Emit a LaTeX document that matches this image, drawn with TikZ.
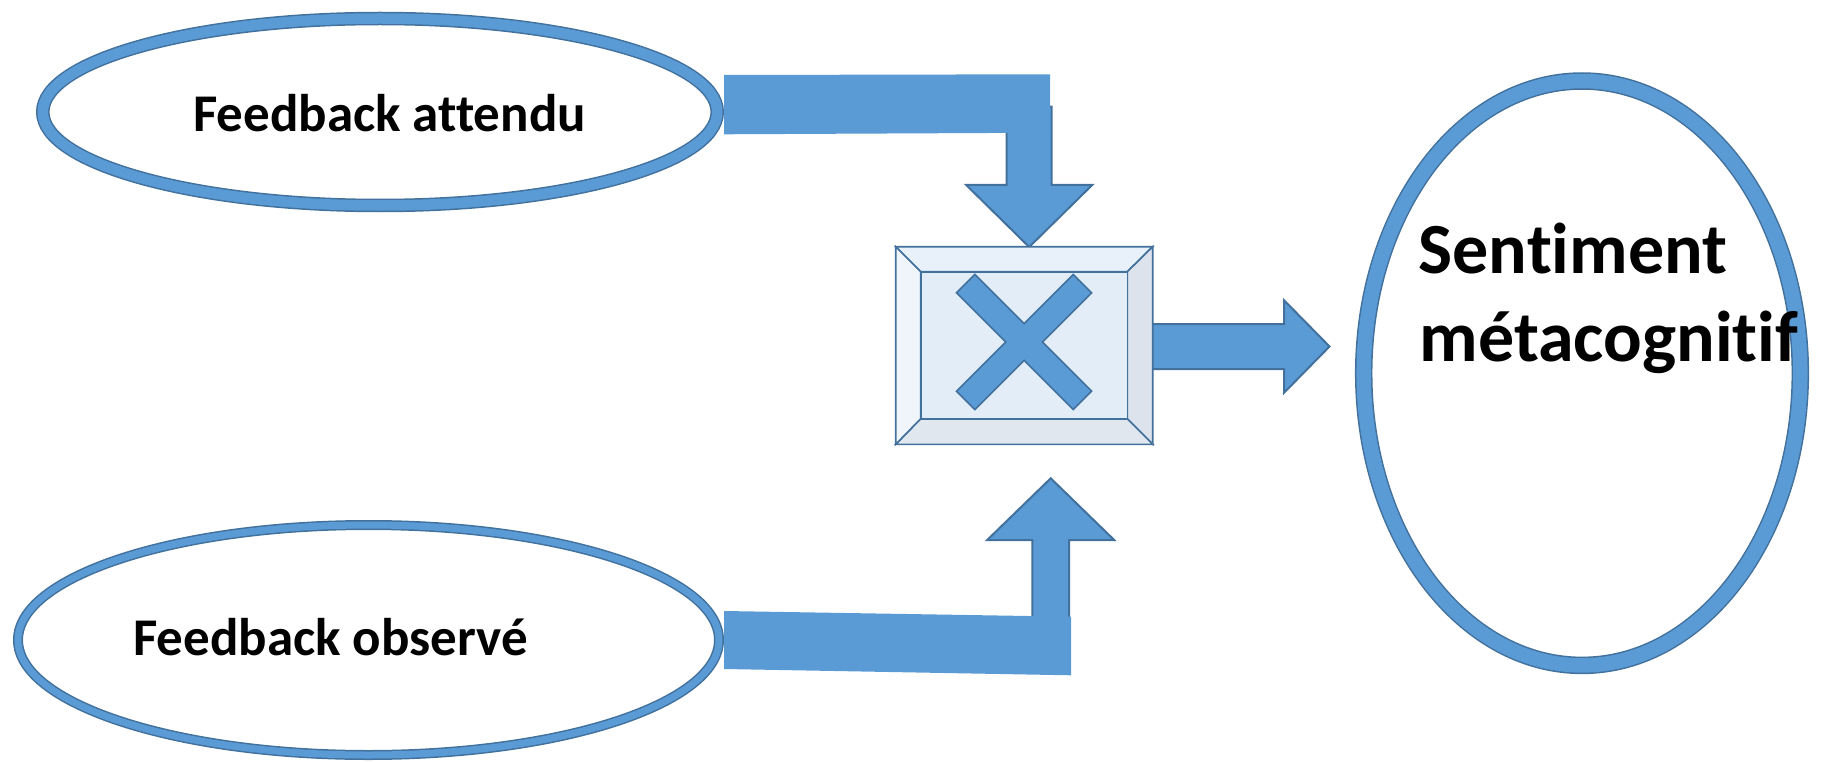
\documentclass[tikz,border=0pt]{standalone}
\usepackage{fontspec}
\setmainfont{Carlito}[RawFeature={-liga;-clig;-dlig}]
\definecolor{fillblue}{HTML}{5B9BD5}
\definecolor{edgeblue}{HTML}{41719C}
\definecolor{bevtop}{HTML}{E8F0F9}
\definecolor{bevleft}{HTML}{F0F5FB}
\definecolor{bevright}{HTML}{DCE3EC}
\definecolor{bevbot}{HTML}{E0E7EF}
\definecolor{bevface}{HTML}{E3EDF8}
\tikzset{
  ringouter/.style={draw=edgeblue, fill=white},
  ringinner/.style={draw=fillblue},
  blockarrow/.style={fill=fillblue, draw=edgeblue, line width=2pt, line join=miter},
  blockbar/.style={fill=fillblue, draw=none},
  bevel/.style={draw=edgeblue, line width=1.6pt, line join=miter},
  lbl/.style={anchor=base west, inner sep=0pt, text=black},
  smalltxt/.style={font=\fontsize{53}{64}\selectfont\bfseries},
  bigtxt/.style={font=\fontsize{72}{88}\selectfont\bfseries}
}
\begin{document}
\begin{tikzpicture}[x=1pt,y=-1pt]
\useasboundingbox (0,0) rectangle (1827,762);

% ---- ellipse centres
\coordinate (eA) at (380,112);
\coordinate (eO) at (368.5,640);
\coordinate (eS) at (1582,373.2);

% ---- ellipses (rings)
\draw[ringouter, line width=13.5pt] (eA) ellipse [x radius=337.25pt, y radius=93.5pt];
\draw[ringinner, line width=10.5pt] (eA) ellipse [x radius=337.25pt, y radius=93.5pt];
\draw[ringouter, line width=10pt] (eO) ellipse [x radius=350.5pt, y radius=115pt];
\draw[ringinner, line width=7pt] (eO) ellipse [x radius=350.5pt, y radius=115pt];
\draw[ringouter, line width=17.5pt] (eS) ellipse [x radius=218.3pt, y radius=292.2pt];
\draw[ringinner, line width=14.5pt] (eS) ellipse [x radius=218.3pt, y radius=292.2pt];

% ---- box corner coordinates
\coordinate (bA) at (895.7,246.7);
\coordinate (bB) at (1152.7,246.7);
\coordinate (bC) at (1152.7,444.3);
\coordinate (bD) at (895.7,444.3);
\coordinate (ba) at (920.7,271.7);
\coordinate (bb) at (1127.3,271.7);
\coordinate (bc) at (1127.3,418.7);
\coordinate (bd) at (920.7,418.7);

% ---- top arrow (down) and its bar
\draw[blockarrow] (1006.7,106.7) -- (1051.7,106.7) -- (1051.7,185) -- (1092.2,185)
  -- (1029.2,247) -- (966.2,185) -- (1006.7,185) -- cycle;
\fill[blockbar] (724,75) -- (1050,74.3) -- (1050,132.7) -- (724,134.3) -- cycle;

% ---- bottom arrow (up) and its bar
\draw[blockarrow] (1032.3,640) -- (1032.3,540) -- (987.2,540) -- (1050.7,478.3)
  -- (1114.2,540) -- (1069,540) -- (1069,640) -- cycle;
\fill[blockbar] (724,611) -- (1071,616.7) -- (1071,675.3) -- (724,669) -- cycle;

% ---- right arrow
\draw[blockarrow] (1150,324) -- (1284,324) -- (1284,300.2) -- (1329.5,346.5)
  -- (1284,392.8) -- (1284,369) -- (1150,369);

% ---- bevelled box
\filldraw[bevel, fill=bevtop] (bA) -- (bB) -- (bb) -- (ba) -- cycle;
\filldraw[bevel, fill=bevright] (bB) -- (bC) -- (bc) -- (bb) -- cycle;
\filldraw[bevel, fill=bevbot] (bC) -- (bD) -- (bd) -- (bc) -- cycle;
\filldraw[bevel, fill=bevleft] (bD) -- (bA) -- (ba) -- (bd) -- cycle;
\filldraw[bevel, fill=bevface] (ba) -- (bb) -- (bc) -- (bd) -- cycle;

% ---- multiply sign
\filldraw[fill=fillblue, draw=edgeblue, line width=1.6pt, line join=miter]
  (1024,323.62) -- (1073.15,274.47) -- (1091.53,292.85) -- (1042.38,342)
  -- (1091.53,391.15) -- (1073.15,409.53) -- (1024,360.38)
  -- (974.85,409.53) -- (956.47,391.15) -- (1005.62,342)
  -- (956.47,292.85) -- (974.85,274.47) -- cycle;

% ---- texts
\node[lbl, smalltxt] (tA) at (193,131.7) {Feedback attendu};
\node[lbl, smalltxt] (tO) at (133,655) {Feedback observé};
\node[lbl, bigtxt] (tS1) at (1418.5,273.3) {Sentiment};
\node[lbl, bigtxt] (tS2) at (1419.5,361.7) {métacognitif};
\end{tikzpicture}
\end{document}
